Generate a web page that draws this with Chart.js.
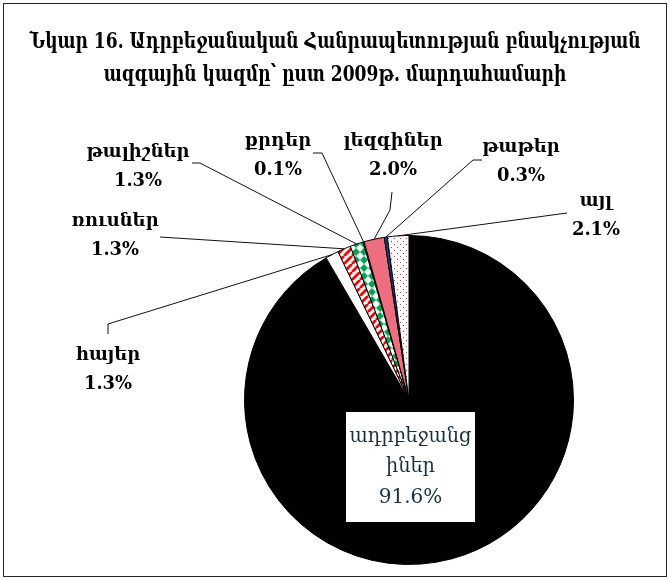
<!DOCTYPE html>
<html>
<head>
<meta charset="utf-8">
<script src="https://cdn.jsdelivr.net/npm/chart.js@4.4.1/dist/chart.umd.min.js"></script>
<style>
  html, body { margin: 0; padding: 0; background: #fff; }
  #wrap { width: 670px; height: 580px; }
</style>
</head>
<body>
<div id="wrap"><canvas id="myChart" width="670" height="580"></canvas></div>
<script>
const titleLines = ['Նկար 16. Ադրբեջանական Հանրապետության բնակչության', 'ազգային կազմը՝ ըստ 2009թ. մարդահամարի'];
const groups = ['ադրբեջանցիներ', 'հայեր', 'ռուսներ', 'թալիշներ', 'քրդեր', 'լեզգիներ', 'թաթեր', 'այլ'];
const shares = [91.6, 1.3, 1.3, 1.3, 0.1, 2.0, 0.3, 2.1];

// label layout: text centre, then the leader line points (from the pie outwards)
const labelLayout = [
  null,
  { x: 108, y: 355, leader: [[108, 324], [108, 334]] },
  { x: 115, y: 221, leader: [[160, 237]] },
  { x: 138, y: 152, leader: [[200, 163], [192, 163]] },
  { x: 278, y: 141, leader: [[322, 153], [313, 153]] },
  { x: 393, y: 141, leader: [[390, 210], [392, 192]] },
  { x: 521, y: 147, leader: [[473, 160], [482, 160]] },
  { x: 596, y: 201, leader: [[567, 213]] }
];

function pattern(size, draw) {
  const c = document.createElement('canvas');
  c.width = size; c.height = size;
  const g = c.getContext('2d');
  g.fillStyle = '#fff';
  g.fillRect(0, 0, size, size);
  draw(g);
  return document.createElement('canvas').getContext('2d').createPattern(c, 'repeat');
}

const stripes = pattern(8, g => {
  g.strokeStyle = '#ff0000';
  g.lineWidth = 2.8;
  for (let k = -8; k <= 16; k += 8) {
    g.beginPath(); g.moveTo(k, 8); g.lineTo(k + 8, 0); g.stroke();
  }
});
const diamonds = pattern(8, g => {
  g.fillStyle = '#00a651';
  g.beginPath(); g.moveTo(4, 0); g.lineTo(8, 4); g.lineTo(4, 8); g.lineTo(0, 4); g.closePath(); g.fill();
});
const dots = pattern(6, g => {
  g.fillStyle = '#e03030';
  g.fillRect(1, 1, 1, 1);
  g.fillRect(4, 4, 1, 1);
});

const colours = ['#000000', '#ffffff', stripes, diamonds, '#ffffff', '#ee6e7f', '#1b3a84', dots];

function squeezedText(ctx, text, x, y, sx) {
  ctx.save();
  ctx.translate(x, y);
  ctx.scale(sx, 1);
  ctx.fillText(text, 0, 0);
  ctx.restore();
}

const decor = {
  id: 'decor',
  beforeDraw(chart) {
    const ctx = chart.ctx;
    ctx.save();
    ctx.fillStyle = '#fff';
    ctx.fillRect(0, 0, chart.width, chart.height);
    ctx.strokeStyle = '#222';
    ctx.lineWidth = 1;
    ctx.strokeRect(3.5, 3.5, chart.width - 7, chart.height - 7);

    ctx.fillStyle = '#000';
    ctx.textAlign = 'center';
    ctx.textBaseline = 'middle';
    ctx.font = 'bold 23px "DejaVu Serif"';
    const sx = 611 / ctx.measureText(titleLines[0]).width;
    squeezedText(ctx, titleLines[0], 335, 42, sx);
    squeezedText(ctx, titleLines[1], 335, 75, sx);
    ctx.restore();
  },
  afterDatasetsDraw(chart) {
    const ctx = chart.ctx;
    const arcs = chart.getDatasetMeta(0).data;
    ctx.save();
    ctx.textAlign = 'center';
    ctx.textBaseline = 'middle';
    ctx.font = 'bold 19px "DejaVu Serif"';
    const sx = 103 / ctx.measureText(groups[3]).width;

    labelLayout.forEach((lay, i) => {
      if (!lay) return;
      const a = arcs[i];
      const mid = (a.startAngle + a.endAngle) / 2;
      ctx.strokeStyle = '#111';
      ctx.lineWidth = 1;
      ctx.beginPath();
      ctx.moveTo(a.x + Math.cos(mid) * a.outerRadius, a.y + Math.sin(mid) * a.outerRadius);
      lay.leader.forEach(p => ctx.lineTo(p[0], p[1]));
      ctx.stroke();
      ctx.fillStyle = '#000';
      squeezedText(ctx, groups[i], lay.x, lay.y, sx);
      squeezedText(ctx, shares[i].toFixed(1) + '%', lay.x, lay.y + 29, sx);
    });

    // inside label of the big slice
    const bx = 345, by = 411, bw = 131, bh = 112;
    ctx.fillStyle = '#fff';
    ctx.fillRect(bx, by, bw, bh);
    ctx.strokeStyle = '#000';
    ctx.strokeRect(bx + 0.5, by + 0.5, bw - 1, bh - 1);
    ctx.fillStyle = '#1d2e3c';
    ctx.font = '20px "DejaVu Serif"';
    const name = groups[0];
    const cx = bx + bw / 2;
    const nsx = Math.min(1, 122 / ctx.measureText(name.slice(0, 9)).width);
    squeezedText(ctx, name.slice(0, 9), cx, 437, nsx);
    squeezedText(ctx, name.slice(9), cx, 467, nsx);
    squeezedText(ctx, shares[0].toFixed(1) + '%', cx, 498, 1);
    ctx.restore();
  }
};

new Chart(document.getElementById('myChart'), {
  type: 'pie',
  data: {
    labels: groups,
    datasets: [{
      data: shares,
      backgroundColor: colours,
      borderColor: '#000',
      borderWidth: 1,
      hoverOffset: 0
    }]
  },
  options: {
    responsive: false,
    animation: false,
    layout: { padding: { left: 244, right: 96, top: 235, bottom: 15 } },
    plugins: {
      legend: { display: false },
      tooltip: { enabled: false }
    }
  },
  plugins: [decor]
});
</script>
</body>
</html>
